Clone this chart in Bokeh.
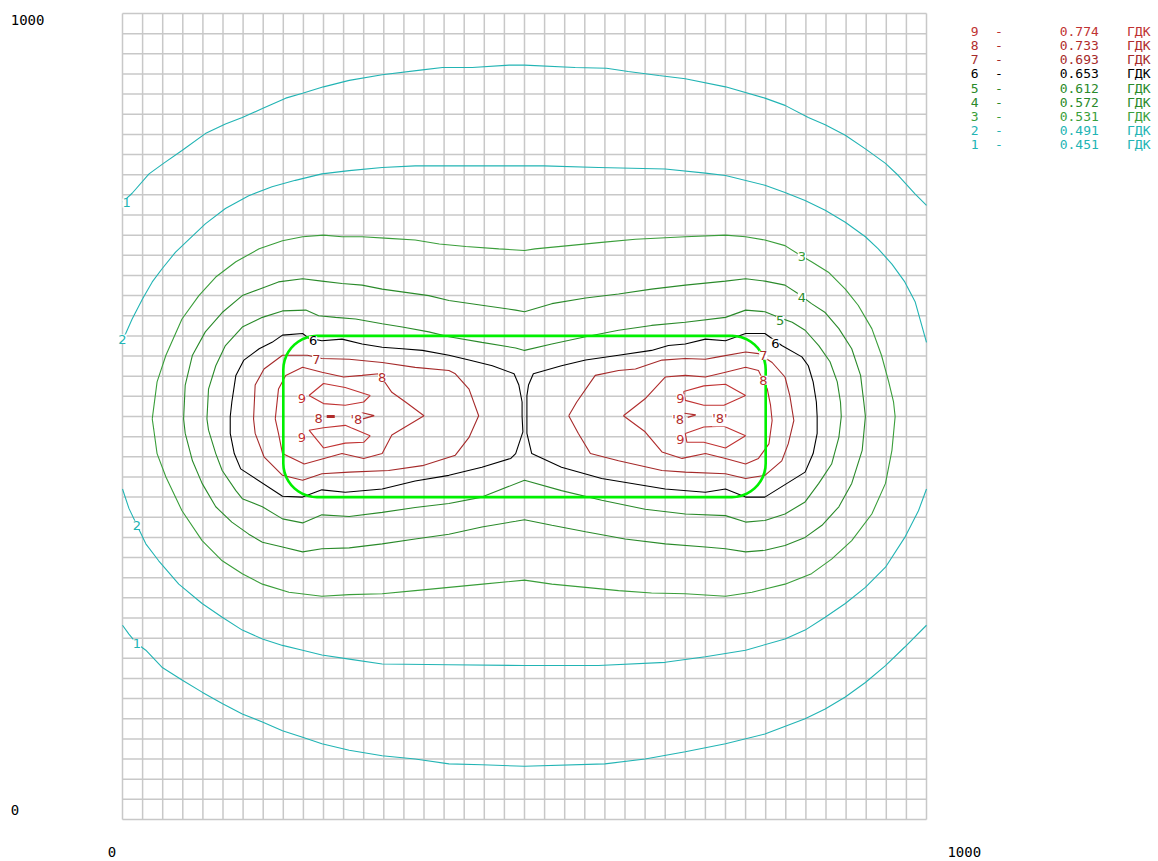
import numpy as np
from bokeh.plotting import figure
from bokeh.models import Range1d, ColumnDataSource, LabelSet
from bokeh.embed import file_html
from bokeh.resources import INLINE
from bokeh.core.properties import value, field

# ---------------- data (map units 0..1000) ----------------
levels = [9, 8, 7, 6, 5, 4, 3, 2, 1]
level_values = ["0.774", "0.733", "0.693", "0.653", "0.612", "0.572", "0.531", "0.491", "0.451"]
unit_label = "ГДК"
map_extent = [0, 1000]
grid_step = 25

# contour 1 (0.451)
c1_top_x = [0, 12, 33, 51, 74, 103, 128, 149, 174, 203, 224, 250, 282, 323, 373, 398, 435, 481, 500, 563, 602, 629, 667, 700, 750, 799, 824, 853, 874, 899, 924, 949, 965, 986, 1000]
c1_top_y = [766, 777, 801, 814, 830, 851, 863, 871, 882, 895, 901, 909, 917, 924, 930, 933, 933, 936, 936, 933, 932, 928, 923, 919, 909, 895, 886, 871, 862, 849, 832, 814, 799, 776, 762]
c1_bot_x = [0, 8, 18, 29, 49, 74, 99, 124, 149, 174, 199, 224, 248, 282, 323, 364, 406, 447, 500, 600, 650, 700, 750, 799, 849, 874, 899, 924, 949, 973, 1000]
c1_bot_y = [241, 230, 218, 210, 189, 173, 158, 144, 131, 121, 110, 102, 94, 86, 79, 75, 69, 68, 66, 69, 75, 84, 94, 106, 125, 137, 152, 170, 191, 214, 241]

# contour 2 (0.491)
c2_top_x = [0, 4, 12, 25, 37, 49, 66, 83, 103, 128, 157, 186, 215, 248, 282, 323, 364, 406, 500, 524, 592, 675, 725, 750, 799, 824, 849, 874, 899, 924, 940, 957, 973, 986, 1000]
c2_top_y = [596, 603, 621, 646, 667, 683, 704, 720, 739, 758, 774, 785, 793, 801, 805, 809, 811, 811, 811, 811, 809, 807, 802, 799, 787, 778, 768, 756, 741, 723, 708, 689, 667, 642, 592]
c2_bot_x = [0, 8, 18, 29, 45, 70, 99, 124, 149, 174, 199, 224, 248, 282, 323, 406, 500, 592, 675, 725, 775, 824, 849, 874, 899, 924, 949, 973, 990, 1000]
c2_bot_y = [410, 386, 365, 342, 321, 292, 268, 251, 235, 224, 216, 210, 204, 199, 193, 192, 191, 191, 195, 202, 210, 224, 235, 251, 268, 288, 313, 350, 383, 410]

# contour 3 (0.531), closed
c3_x = [37, 43, 54, 74, 95, 116, 141, 170, 199, 224, 250, 273, 298, 331, 364, 394, 427, 468, 500, 513, 555, 596, 638, 700, 750, 775, 799, 824, 843, 857, 878, 899, 915, 932, 944, 953, 959, 961,
        957, 949, 932, 907, 882, 857, 824, 783, 750, 700, 658, 617, 576, 534, 500, 448, 406, 364, 323, 282, 248, 207, 174, 149, 124, 99, 74, 54, 43, 39]
c3_y = [497, 543, 576, 621, 650, 673, 692, 708, 718, 723, 725, 723, 723, 721, 719, 714, 711, 708, 706, 708, 712, 716, 720, 723, 725, 723, 719, 712, 700, 692, 679, 658, 638, 609, 576, 543, 518, 500,
        458, 417, 379, 346, 323, 305, 292, 282, 277, 280, 281, 284, 288, 292, 297, 292, 288, 284, 280, 279, 277, 282, 292, 305, 321, 346, 383, 425, 454, 483]

# contour 4 (0.572), closed
c4_x = [76, 78, 87, 103, 124, 149, 170, 194, 224, 248, 273, 298, 323, 352, 381, 406, 447, 489, 500, 534, 576, 617, 658, 700, 750, 775, 799, 824, 841, 857, 874, 891, 907, 918, 922, 924,
        920, 907, 891, 870, 849, 824, 799, 775, 750, 725, 675, 625, 576, 534, 500, 489, 447, 406, 364, 323, 282, 248, 224, 199, 174, 157, 136, 116, 99, 87, 78]
c4_y = [497, 539, 576, 605, 629, 650, 658, 667, 671, 668, 665, 663, 658, 654, 650, 644, 638, 632, 630, 640, 647, 652, 658, 663, 668, 671, 668, 663, 652, 640, 629, 609, 584, 551, 518, 500,
        458, 417, 388, 365, 350, 340, 334, 332, 336, 338, 342, 348, 357, 365, 372, 370, 363, 354, 348, 342, 337, 336, 332, 338, 344, 354, 369, 388, 417, 445, 479]

# contour 5 (0.612), closed
c5_x = [105, 107, 116, 128, 149, 174, 199, 228, 244, 265, 290, 323, 348, 381, 406, 447, 489, 500, 534, 576, 617, 658, 700, 750, 775, 799, 816, 833, 849, 866, 880, 889, 893, 894,
        891, 882, 866, 849, 824, 799, 775, 750, 700, 650, 596, 546, 500, 447, 406, 364, 323, 282, 248, 224, 199, 174, 149, 141, 124, 116, 107]
c5_y = [497, 534, 563, 588, 611, 623, 631, 632, 625, 623, 621, 615, 611, 605, 599, 592, 585, 582, 590, 599, 607, 613, 617, 623, 632, 630, 623, 617, 607, 588, 568, 543, 518, 500,
        474, 441, 417, 394, 379, 371, 369, 377, 379, 385, 396, 408, 421, 400, 392, 387, 381, 376, 378, 368, 373, 388, 398, 408, 433, 454, 483]

# contour 6 (0.653), two closed lobes
c6a_x = [134, 136, 141, 151, 170, 186, 199, 224, 232, 248, 273, 298, 323, 348, 373, 406, 431, 460, 487, 493, 497, 497,
         498, 489, 483, 447, 406, 364, 323, 277, 248, 224, 199, 147, 139, 134]
c6a_y = [500, 518, 551, 570, 584, 592, 601, 603, 597, 594, 596, 590, 586, 584, 582, 576, 570, 563, 553, 539, 518, 500,
         481, 454, 448, 437, 427, 420, 410, 406, 409, 400, 401, 435, 454, 479]
c6b_x = [503, 503, 505, 511, 546, 576, 617, 658, 679, 700, 725, 750, 775, 799, 820, 845, 853, 859, 863, 864,
         864, 859, 849, 799, 775, 750, 725, 675, 596, 546, 509, 503]
c6b_y = [500, 526, 539, 553, 563, 570, 576, 582, 588, 590, 596, 594, 603, 603, 588, 574, 563, 543, 518, 500,
         479, 454, 431, 400, 400, 410, 406, 410, 423, 437, 454, 479]

# contour 7 (0.693)
c7a_x = [163, 165, 176, 199, 230, 248, 282, 323, 364, 406, 414, 431, 443, 431, 414, 373, 331, 282, 248, 224, 199, 176, 165]
c7a_y = [497, 539, 559, 576, 576, 572, 571, 567, 561, 557, 553, 534, 501, 474, 452, 439, 433, 431, 429, 421, 427, 450, 479]
c7b_x = [555, 565, 588, 617, 638, 671, 700, 725, 741, 775, 791, 808, 824, 830, 835, 834, 828, 820, 799, 775, 750, 700, 671, 617, 582, 567]
c7b_y = [501, 518, 551, 557, 559, 570, 572, 571, 574, 580, 578, 567, 549, 526, 495, 491, 466, 445, 427, 423, 429, 431, 433, 445, 454, 479]

# contour 8 (0.733)
c8a_x = [190, 194, 203, 224, 248, 275, 298, 319, 335, 352, 375, 335, 323, 300, 273, 226, 199, 194]
c8a_y = [497, 534, 551, 561, 555, 549, 551, 553, 530, 518, 501, 477, 454, 448, 454, 441, 454, 479]
c8b_x = [623, 650, 675, 700, 725, 750, 775, 791, 802, 806, 808, 804, 791, 775, 750, 725, 696, 671, 650]
c8b_y = [501, 522, 549, 551, 549, 555, 561, 557, 534, 514, 495, 466, 448, 441, 448, 454, 448, 456, 481]
c8_small_x = [[254, 264], [297, 313, 299], [699, 713, 703]]
c8_small_y = [[500, 500], [505, 501, 497], [504, 502, 499]]

# contour 9 (0.774)
c9a_x = [232, 250, 277, 308, 300, 277, 250]
c9a_y = [526, 541, 536, 526, 518, 514, 516]
c9b_x = [232, 250, 277, 308, 300, 277, 250]
c9b_y = [483, 486, 489, 476, 468, 467, 461]
c9c_x = [698, 723, 750, 775, 748, 723, 700]
c9c_y = [531, 538, 540, 526, 514, 514, 520]
c9d_x = [700, 723, 748, 775, 750, 723, 702]
c9d_y = [479, 487, 488, 476, 461, 468, 468]

# site outline (bright green)
site_x = [200, 800]
site_y = [400, 600]
site_corner = 42

# ---------------- styling / layout ----------------
level_color = {1: "#22b4b4", 2: "#22b4b4", 3: "#3a9e3a", 4: "#2a8a2a", 5: "#2a8a2a",
               6: "#000000", 7: "#a52a2a", 8: "#b02c2c", 9: "#c03232"}
GRID = "#c8c8c8"
W, H = 1156, 860            # canvas in px
LEFT, TOP = 122, 13         # map origin on canvas
SX, SY = 0.804, 0.806       # px per map unit
x_start = -LEFT / SX
y_end = 1000 + TOP / SY

p = figure(frame_width=W, frame_height=H, min_border=0,
           x_range=Range1d(x_start, x_start + W / SX), y_range=Range1d(y_end - H / SY, y_end),
           x_axis_location=None, y_axis_location=None, toolbar_location=None, output_backend="svg",
           background_fill_color="white", border_fill_color="white")
p.outline_line_color = None
p.grid.visible = False

# map grid
gt = np.arange(map_extent[0], map_extent[1] + grid_step, grid_step)
p.segment(x0=gt, y0=map_extent[0], x1=gt, y1=map_extent[1], line_color=GRID, line_width=1.5)
p.segment(x0=map_extent[0], y0=gt, x1=map_extent[1], y1=gt, line_color=GRID, line_width=1.5)


def closed(a):
    return list(a) + [a[0]]


lines = [
    (c1_top_x, c1_top_y, 1), (c1_bot_x, c1_bot_y, 1),
    (c2_top_x, c2_top_y, 2), (c2_bot_x, c2_bot_y, 2),
    (closed(c3_x), closed(c3_y), 3), (closed(c4_x), closed(c4_y), 4), (closed(c5_x), closed(c5_y), 5),
    (closed(c6a_x), closed(c6a_y), 6), (closed(c6b_x), closed(c6b_y), 6),
    (closed(c7a_x), closed(c7a_y), 7), (closed(c7b_x), closed(c7b_y), 7),
    (closed(c8a_x), closed(c8a_y), 8), (closed(c8b_x), closed(c8b_y), 8),
    (closed(c9a_x), closed(c9a_y), 9), (closed(c9b_x), closed(c9b_y), 9),
    (closed(c9c_x), closed(c9c_y), 9), (closed(c9d_x), closed(c9d_y), 9),
]
src = ColumnDataSource(dict(xs=[l[0] for l in lines], ys=[l[1] for l in lines],
                            color=[level_color[l[2]] for l in lines]))
p.multi_line("xs", "ys", source=src, line_color="color", line_width=1.1)
p.multi_line(c8_small_x, c8_small_y, line_color=level_color[8], line_width=[3, 1.2, 1.2])

# site outline with rounded corners
x0, x1 = site_x
y0, y1 = site_y
r = site_corner
t = np.linspace(0, np.pi / 2, 12)
sx = np.concatenate([x1 - r + r * np.sin(t), x1 - r + r * np.cos(t), x0 + r - r * np.sin(t), x0 + r - r * np.cos(t)])
sy = np.concatenate([y1 - r + r * np.cos(t), y0 + r - r * np.sin(t), y0 + r - r * np.cos(t), y1 - r + r * np.sin(t)])
p.line(np.append(sx, sx[0]), np.append(sy, sy[0]), line_color="#00f000", line_width=2.6)

# contour labels on the lines
lab_text = ["1", "2", "2", "1", "3", "4", "5", "6", "6", "7", "7", "8", "8", "9", "9", "9", "9", "8", "'8", "'8", "'8'"]
lab_x = [5, 0, 18, 18, 845, 845, 818, 237, 812, 241, 797, 323, 797, 223, 223, 694, 694, 244, 291, 691, 743]
lab_y = [765, 596, 365, 218, 698, 648, 619, 594, 591, 571, 576, 549, 545, 522, 474, 522, 472, 498, 496, 496, 497]
lab_lev = [1, 2, 2, 1, 3, 4, 5, 6, 6, 7, 7, 8, 8, 9, 9, 9, 9, 8, 8, 8, 8]
lsrc = ColumnDataSource(dict(x=lab_x, y=lab_y, text=lab_text, color=[level_color[l] for l in lab_lev]))
p.add_layout(LabelSet(x="x", y="y", text="text", source=lsrc, text_color=field("color"),
                      text_align="center", text_baseline="middle", text_font=value("DejaVu Sans"),
                      text_font_size="13px", background_fill_color="white"))

# legend (top right)
n = len(levels)
leg_y = [977.5 - 17.5 * i for i in range(n)]
leg_col = [level_color[l] for l in levels]
for key, xpos in (("lev", 1060), ("dash", 1090), ("val", 1190), ("unit", 1264)):
    data = dict(x=[xpos] * n, y=leg_y, lev=[str(l) for l in levels], dash=["-"] * n,
                val=level_values, unit=[unit_label] * n, color=leg_col)
    p.add_layout(LabelSet(x="x", y="y", text=key, source=ColumnDataSource(data), text_color=field("color"),
                          text_align="center", text_baseline="middle",
                          text_font=value("DejaVu Sans Mono"), text_font_size="13px"))

# corner coordinate labels
csrc = ColumnDataSource(dict(x=[-139, -139, -13, 1047], y=[992, 12, -40, -40],
                             text=["1000", "0", "0", "1000"], align=["left", "left", "center", "center"]))
p.add_layout(LabelSet(x="x", y="y", text="text", source=csrc, text_align=field("align"),
                      text_baseline="middle", text_color="#000000",
                      text_font=value("DejaVu Sans Mono"), text_font_size="14px"))

open("out.html", "w").write(file_html(p, INLINE))
